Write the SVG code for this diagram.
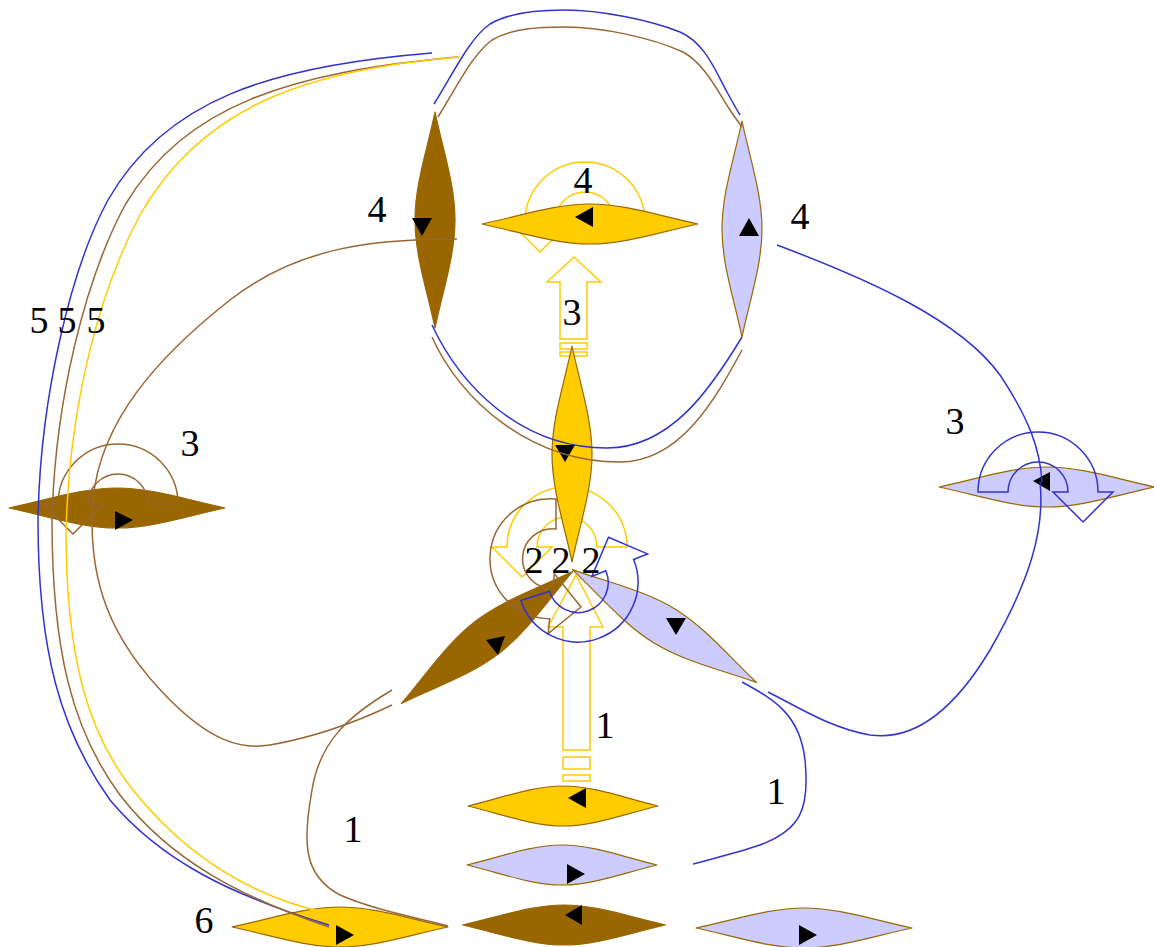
<svg xmlns="http://www.w3.org/2000/svg" width="1154" height="947" viewBox="0 0 1154 947">
<defs>
<path id="leaf" d="M-108,0 C-70,-8 -35,-20 0,-20 C35,-20 70,-8 108,0 C70,8 35,20 0,20 C-35,20 -70,8 -108,0 Z"/>
</defs>
<style>
.ny{fill:#ffcc00;stroke:#996600;stroke-width:1.2;stroke-linejoin:round}
.nb{fill:#996600;stroke:#996600;stroke-width:1.2;stroke-linejoin:round}
.nl{fill:#ccccff;stroke:#996600;stroke-width:1.2;stroke-linejoin:round}
.ar{fill:#000}
.eb{fill:none;stroke:#3333cc;stroke-width:1.5}
.er{fill:none;stroke:#996633;stroke-width:1.5}
.ey{fill:none;stroke:#ffcc00;stroke-width:1.5}
.lb{fill:none;stroke:#3333cc;stroke-width:1.5}
.lr{fill:none;stroke:#996633;stroke-width:1.5}
.ly{fill:none;stroke:#ffcc00;stroke-width:1.5}
.t{font-family:"Liberation Serif","Times New Roman",serif;font-size:38px;fill:#000;text-anchor:middle}
</style>
<rect width="1154" height="947" fill="#fff"/>
<g id="loops-under">
<path class="ly" d="M645,222 A60,60 0 0 0 525,222 L510,222 L540,252 L570,222 L555,222 A30,30 0 0 1 615,222 Z"/>
<path class="ly" d="M627,547 A60,60 0 0 0 507,547 L492,547 L522,577 L552,547 L537,547 A30,30 0 0 1 597,547 Z"/>
<path class="ly" d="M560,282 L547,282 L574,257 L601,282 L587,282 L587,339 L560,339 Z M560,343 H587 V349 H560 Z M560,352 H587 V356 H560 Z"/>
<path class="ly" d="M563,627 L548,627 L576,575 L603,627 L590,627 L590,750 L563,750 Z M563,757 H590 V769 H563 Z M563,775 H590 V781 H563 Z"/>
</g>
<g id="n1"><use href="#leaf" class="nb" transform="translate(435,220) rotate(90)"/><polygon class="ar" points="412,218 432,218 422,236"/></g>
<g id="n2"><use href="#leaf" class="ny" transform="translate(590,224)"/><polygon class="ar" points="575,217 593,207 593,227"/></g>
<g id="n3"><use href="#leaf" class="nl" transform="translate(742,229) rotate(90)"/><polygon class="ar" points="749,218 739,236 759,236"/></g>
<g id="n4"><use href="#leaf" class="ny" transform="translate(572,454) rotate(90)"/><polygon class="ar" points="555,445 575,445 565,462"/></g>
<g id="n5"><use href="#leaf" class="nb" transform="translate(117,508)"/><polygon class="ar" points="115,511 115,530 133,520"/></g>
<g id="n6"><use href="#leaf" class="nl" transform="translate(1047,487)"/><polygon class="ar" points="1033,481 1050,472 1050,491"/></g>
<g id="n7"><use href="#leaf" class="nb" transform="translate(487,637.5) rotate(-37.6)"/><polygon class="ar" points="486,640 505,636 498,655"/></g>
<g id="n8"><use href="#leaf" class="nl" transform="translate(664.5,626) rotate(31.5)"/><polygon class="ar" points="666,618 686,618 676,635"/></g>
<g id="n9"><use href="#leaf" class="ny" transform="translate(563,806) scale(0.88,1)"/><polygon class="ar" points="568,798 586,788 586,808"/></g>
<g id="n10"><use href="#leaf" class="nl" transform="translate(562,865) scale(0.88,1)"/><polygon class="ar" points="567,864 567,884 585,874"/></g>
<g id="n11"><use href="#leaf" class="ny" transform="translate(340,927)"/><polygon class="ar" points="336,925 336,945 354,935"/></g>
<g id="n12"><use href="#leaf" class="nb" transform="translate(564,925) scale(0.94,1)"/><polygon class="ar" points="565,915 582,905 582,925"/></g>
<g id="n13"><use href="#leaf" class="nl" transform="translate(804,928)"/><polygon class="ar" points="799,925 799,945 817,935"/></g>
<g id="loops-over">
<path class="lr" d="M178,504 A60,60 0 0 0 58,504 L43,504 L73,534 L103,504 L88,504 A30,30 0 0 1 148,504 Z"/>
<path class="lb" d="M978,492 A60,60 0 0 1 1098,492 L1113,492 L1083,522 L1053,492 L1068,492 A30,30 0 0 0 1008,492 Z"/>
<path class="lr" d="M556,499 A60,60 0 1 0 549.7,618.7 L548.2,633.6 L581,607 L554.4,573.9 L552.9,588.8 A30,30 0 1 1 556,529 Z"/>
<path class="lb" d="M520.9,600.5 A60,60 0 1 0 633.6,559.5 L647.5,553.9 L608.5,537.3 L591.9,576.4 L605.8,570.8 A30,30 0 1 1 549.5,591.3 Z"/>
</g>
<g id="connectors">
<path class="eb" d="M434,104 C455,70 470,38 490,24 C510,12 540,10 565,10 C600,10 650,20 680,32 C705,43 715,70 727,92 C733,103 737,110 740,115"/>
<path class="er" d="M438,117 C458,85 472,55 492,40 C512,28 540,27 565,27 C600,27 650,37 683,52 C705,64 718,92 730,110 C735,118 740,124 742,127"/>
<path class="eb" d="M432,325 C460,385 520,448 607,448 C670,448 710,390 742,337"/>
<path class="er" d="M432,337 C460,400 530,462 620,462 C680,462 715,400 742,350"/>
<path class="eb" d="M432,53 C270,66 165,100 108,200 C70,270 40,400 38,520 C38,650 60,730 110,800 C160,860 230,895 329,925"/>
<path class="er" d="M458,57 C290,72 185,105 125,205 C85,280 55,400 52,520 C52,650 72,730 120,795 C170,860 240,897 329,927"/>
<path class="ey" d="M460,57 C300,70 200,110 140,215 C100,290 70,400 66,530 C66,650 85,730 133,790 C185,855 250,895 322,912"/>
<path class="er" d="M457,239 C380,239 300,245 230,300 C160,355 100,420 93,500 C87,580 110,640 170,700 C210,740 240,750 270,745 C310,738 350,725 392,705"/>
<path class="er" d="M392,690 C350,715 320,740 312,790 C303,840 302,875 340,895 C380,912 420,918 448,926"/>
<path class="eb" d="M742,682 C775,700 800,715 805,760 C810,810 800,830 760,845 C740,852 715,858 693,864"/>
<path class="eb" d="M768,692 C800,708 830,728 870,735 C920,742 960,700 990,650 C1030,580 1045,530 1040,482"/>
<path class="eb" d="M777,245 C870,280 960,320 1000,375 C1030,420 1040,450 1042,482"/>
</g>
<g id="labels">
<text class="t" x="377" y="222">4</text>
<text class="t" x="583" y="193">4</text>
<text class="t" x="800" y="229">4</text>
<text class="t" x="572" y="325">3</text>
<text class="t" x="190" y="456">3</text>
<text class="t" x="955" y="434">3</text>
<text class="t" x="534" y="573">2</text>
<text class="t" x="561" y="573">2</text>
<text class="t" x="591" y="573">2</text>
<text class="t" x="605" y="738">1</text>
<text class="t" x="776" y="804">1</text>
<text class="t" x="353" y="842">1</text>
<text class="t" x="204" y="933">6</text>
<text class="t" x="39" y="333">5</text>
<text class="t" x="67" y="333">5</text>
<text class="t" x="96" y="333">5</text>
</g>
</svg>
